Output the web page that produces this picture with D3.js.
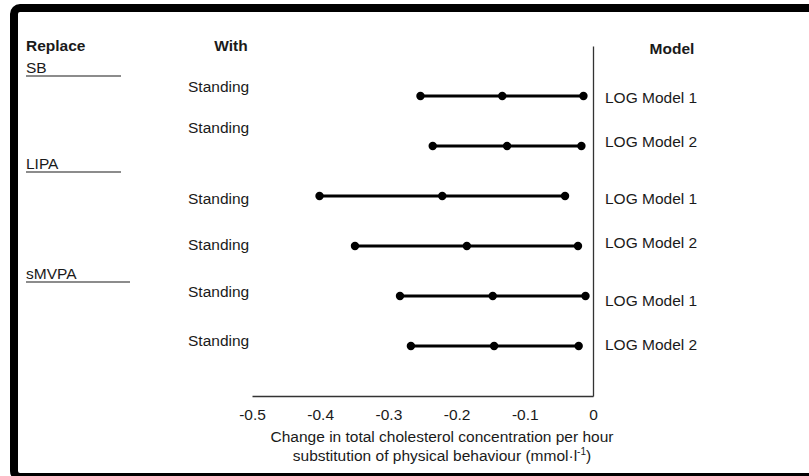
<!DOCTYPE html>
<html>
<head>
<meta charset="utf-8">
<script src="https://cdn.jsdelivr.net/npm/d3@7"></script>
<style>
  html, body { margin: 0; padding: 0; background: #fff; }
  svg { display: block; }
  text { font-family: "Liberation Sans", Arial, sans-serif; fill: #1a1a1a; }
</style>
</head>
<body>
<div id="chart"></div>
<script>
// Data
const groups = ["SB", "LIPA", "sMVPA"];
const withLabels = ["Standing", "Standing", "Standing", "Standing", "Standing", "Standing"];
const modelLabels = ["LOG Model 1", "LOG Model 2", "LOG Model 1", "LOG Model 2", "LOG Model 1", "LOG Model 2"];
const lower = [-0.253, -0.235, -0.401, -0.349, -0.283, -0.267];
const estimate = [-0.133, -0.126, -0.221, -0.185, -0.147, -0.145];
const upper = [-0.014, -0.017, -0.041, -0.022, -0.011, -0.021];
const xTicks = [-0.5, -0.4, -0.3, -0.2, -0.1, 0];

(function () {
  const [w, h] = [809, 476];
  const fontSize = 15.5;
  const radio = 4.2;

  // label nudges (as placed in the original figure)
  const withOffset = [-9, -17.5, 3, -1, -4, -5];
  const modelOffset = [1.3, -4.3, 2.3, -3, 4.7, -1];
  const groupY = [68, 164, 274];
  const groupLine = [121, 121, 130];

  const x = d3.scaleLinear().domain([-0.5, 0]).range([252, 593]);
  const y = d3.scaleLinear().domain([-1, 6]).range([46, 396]);

  const rows = lower.map((d, i) => ({
    lo: d, est: estimate[i], hi: upper[i], with: withLabels[i], model: modelLabels[i], i
  }));

  const svg = d3.select("#chart").append("svg")
    .attr("width", w)
    .attr("height", h);

  // Frame
  svg.append("rect")
    .attr("x", 14).attr("y", 8)
    .attr("width", 900).attr("height", 469)
    .attr("rx", 6)
    .attr("fill", "#fff")
    .attr("stroke", "#000")
    .attr("stroke-width", 8);

  // Axes
  const xAxis = d3.axisBottom(x)
    .tickValues(xTicks)
    .tickSize(0)
    .tickPadding(13)
    .tickFormat(d => d === 0 ? "0" : d.toFixed(1));

  const gx = svg.append("g")
    .attr("transform", `translate(0,${y(6)})`)
    .call(xAxis);
  gx.select(".domain").attr("stroke", "#333").attr("stroke-width", 1.3);
  gx.selectAll("text")
    .attr("font-size", fontSize)
    .style("font-family", "'Liberation Sans', Arial, sans-serif")
    .attr("fill", "#1a1a1a");

  const gy = svg.append("g")
    .attr("transform", `translate(${x(0)},0)`)
    .call(d3.axisLeft(y).tickValues([]).tickSizeOuter(0));
  gy.select(".domain").attr("stroke", "#333").attr("stroke-width", 1.3);

  // Axis title
  const title = svg.append("text")
    .attr("text-anchor", "middle")
    .attr("font-size", fontSize);
  title.append("tspan")
    .attr("x", 442).attr("y", 442)
    .text("Change in total cholesterol concentration per hour");
  title.append("tspan")
    .attr("x", 442).attr("y", 460.5)
    .text("substitution of physical behaviour (mmol\u00b7l");
  title.append("tspan")
    .attr("font-size", 10)
    .attr("dy", -6)
    .text("-1");
  title.append("tspan")
    .attr("dy", 6)
    .text(")");

  // Headers
  svg.append("text")
    .attr("x", 26).attr("y", y(-1))
    .attr("dy", "0.35em")
    .attr("font-size", fontSize).attr("font-weight", "bold")
    .text("Replace");
  svg.append("text")
    .attr("x", 231).attr("y", y(-1))
    .attr("dy", "0.35em")
    .attr("text-anchor", "middle")
    .attr("font-size", fontSize).attr("font-weight", "bold")
    .text("With");
  svg.append("text")
    .attr("x", 672).attr("y", y(-1) + 3)
    .attr("dy", "0.35em")
    .attr("text-anchor", "middle")
    .attr("font-size", fontSize).attr("font-weight", "bold")
    .text("Model");

  // Group labels with underline
  const g = svg.selectAll(".group")
    .data(groups)
    .enter()
    .append("g")
    .attr("class", "group");
  g.append("text")
    .attr("x", 26)
    .attr("y", (d, i) => groupY[i])
    .attr("dy", "0.35em")
    .attr("font-size", fontSize)
    .text(d => d);
  g.append("line")
    .attr("x1", 26)
    .attr("x2", (d, i) => groupLine[i])
    .attr("y1", (d, i) => groupY[i] + 8)
    .attr("y2", (d, i) => groupY[i] + 8)
    .attr("stroke", "#1a1a1a")
    .attr("stroke-width", 1.2);

  // Row labels
  svg.selectAll(".with")
    .data(rows)
    .enter()
    .append("text")
    .attr("class", "with")
    .attr("x", 188)
    .attr("y", d => y(d.i) + withOffset[d.i])
    .attr("dy", "0.3em")
    .attr("font-size", fontSize)
    .text(d => d.with);

  svg.selectAll(".model")
    .data(rows)
    .enter()
    .append("text")
    .attr("class", "model")
    .attr("x", 605)
    .attr("y", d => y(d.i) + modelOffset[d.i])
    .attr("dy", "0.35em")
    .attr("font-size", fontSize)
    .text(d => d.model);

  // Intervals
  svg.selectAll(".ci")
    .data(rows)
    .enter()
    .append("line")
    .attr("class", "ci")
    .attr("x1", d => x(d.lo))
    .attr("x2", d => x(d.hi))
    .attr("y1", d => y(d.i))
    .attr("y2", d => y(d.i))
    .attr("stroke", "#000")
    .attr("stroke-width", 3);

  const dots = rows.flatMap(d => [
    { v: d.lo, i: d.i }, { v: d.est, i: d.i }, { v: d.hi, i: d.i }
  ]);
  svg.selectAll(".dot")
    .data(dots)
    .enter()
    .append("circle")
    .attr("class", "dot")
    .attr("cx", d => x(d.v))
    .attr("cy", d => y(d.i))
    .attr("r", radio)
    .attr("fill", "#000");
})();
</script>
</body>
</html>
